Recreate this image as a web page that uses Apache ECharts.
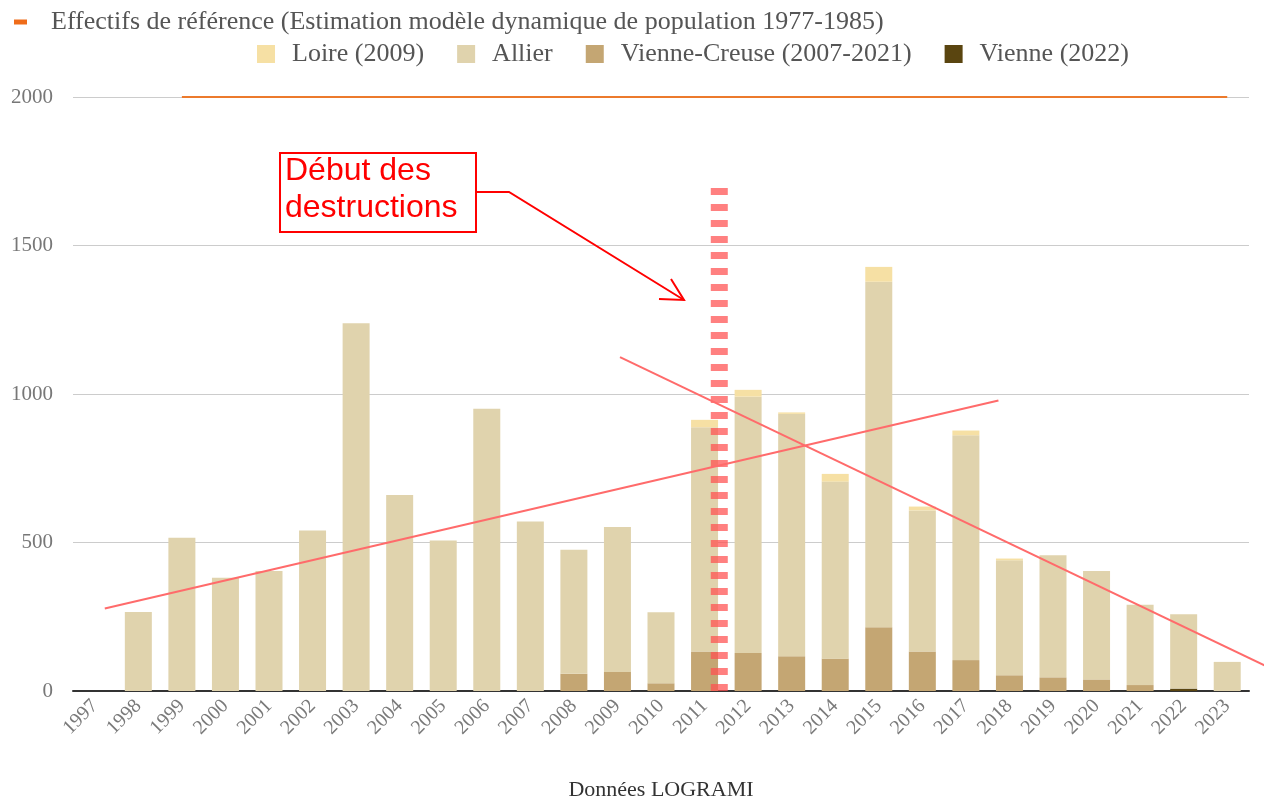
<!DOCTYPE html>
<html>
<head>
<meta charset="utf-8">
<script src="https://cdn.jsdelivr.net/npm/echarts@6/dist/echarts.min.js"></script>
<style>
  html, body { margin: 0; padding: 0; background: #fff; }
  #chart { width: 1264px; height: 803px; }
</style>
</head>
<body>
<div id="chart"></div>
<script>
const years = ['1997', '1998', '1999', '2000', '2001', '2002', '2003', '2004', '2005', '2006',
  '2007', '2008', '2009', '2010', '2011', '2012', '2013', '2014', '2015', '2016',
  '2017', '2018', '2019', '2020', '2021', '2022', '2023']

// portions empilées (du bas vers le haut)
const vienne = [null, null, null, null, null, null, null, null, null, null,
  null, null, null, null, null, null, null, null, null, null,
  null, null, null, null, null, 8, null]
const vienneCreuse = [null, null, null, null, null, null, null, null, null, null,
  null, 58, 64, 26, 133, 128, 117, 109, 215, 133,
  104, 53, 46, 39, 20, null, null]
const allier = [null, 266, 516, 381, 404, 540, 1238, 660, 507, 950,
  571, 418, 488, 239, 755, 863, 816, 596, 1163, 475,
  757, 387, 411, 365, 270, 250, 98]
const loire = [null, null, null, null, null, null, null, null, null, null,
  null, null, null, null, 25, 23, 5, 26, 50, 13,
  16, 6, null, null, null, null, null]
const reference = [null, null, 2000, 2000, 2000, 2000, 2000, 2000, 2000, 2000,
  2000, 2000, 2000, 2000, 2000, 2000, 2000, 2000, 2000, 2000,
  2000, 2000, 2000, 2000, 2000, 2000, 2000]

const yTicks = [0, 500, 1000, 1500, 2000]

// annotations (axe x continu, en années)
const trendUp = [[1997.23, 278], [2017.75, 978]]
const trendDown = [[2009.06, 1124], [2023.86, 86]]
const destructionStart = [[2011.34, 0], [2011.34, 1700]]

const REF_NAME = 'Effectifs de référence (Estimation modèle dynamique de population 1977-1985)'
const SERIF = '"Liberation Serif", "DejaVu Serif", serif'

const chart = echarts.init(document.getElementById('chart'))

function barSeries(name, data, color) {
  return {
    name,
    type: 'bar',
    stack: 'total',
    data,
    barWidth: 27,
    itemStyle: { color },
    emphasis: { disabled: true }
  }
}

function overlayLine(name, data, lineStyle, z) {
  return {
    name,
    type: 'line',
    xAxisIndex: 1,
    yAxisIndex: 1,
    data,
    symbol: 'none',
    clip: false,
    lineStyle,
    z
  }
}

const trendStyle = { color: '#ff6b6b', width: 2 }
// la grille d'annotation va jusqu'au bord droit : une année = 43.55 px
const overlayMax = 1996.5 + (1264 - 73) / 43.55

chart.setOption({
  animation: false,
  textStyle: { fontFamily: SERIF },
  legend: [
    {
      data: [REF_NAME],
      left: 14,
      top: 9,
      padding: 0,
      icon: 'rect',
      itemWidth: 13,
      itemHeight: 5,
      textStyle: { fontSize: 26, color: '#555', fontFamily: SERIF, padding: [0, 0, 0, 19] }
    },
    {
      data: ['Loire (2009)', 'Allier', 'Vienne-Creuse (2007-2021)', 'Vienne (2022)'],
      left: 257,
      top: 41,
      padding: 0,
      icon: 'rect',
      itemWidth: 18,
      itemHeight: 18,
      itemGap: 33,
      textStyle: { fontSize: 26, color: '#555', fontFamily: SERIF, padding: [0, 0, 0, 12] }
    }
  ],
  grid: [
    { left: 73, right: 15, top: 97, bottom: 112, containLabel: false, outerBoundsMode: 'none' },
    { left: 73, right: 0, top: 97, bottom: 112, containLabel: false, outerBoundsMode: 'none' }
  ],
  xAxis: [
    {
      type: 'category',
      gridIndex: 0,
      data: years,
      axisTick: { show: false },
      axisLine: { lineStyle: { color: '#333', width: 2 } },
      axisLabel: { rotate: 45, fontSize: 20, color: '#7a7a7a', margin: 12, fontFamily: SERIF },
      name: 'Données LOGRAMI',
      nameLocation: 'middle',
      nameGap: 88,
      nameTextStyle: { fontSize: 22, color: '#333', fontFamily: SERIF }
    },
    {
      type: 'value',
      gridIndex: 1,
      min: 1996.5,
      max: overlayMax,
      show: false
    }
  ],
  yAxis: [
    {
      type: 'value',
      gridIndex: 0,
      min: yTicks[0],
      max: yTicks[yTicks.length - 1],
      interval: 500,
      axisLine: { show: false },
      axisTick: { show: false },
      axisLabel: { fontSize: 21, color: '#777', margin: 20, fontFamily: SERIF, formatter: v => String(v) },
      splitLine: { lineStyle: { color: '#ccc', width: 1 } }
    },
    {
      type: 'value',
      gridIndex: 1,
      min: yTicks[0],
      max: yTicks[yTicks.length - 1],
      show: false
    }
  ],
  series: [
    barSeries('Vienne (2022)', vienne, '#5a4510'),
    barSeries('Vienne-Creuse (2007-2021)', vienneCreuse, '#c4a673'),
    barSeries('Allier', allier, '#e0d3ad'),
    barSeries('Loire (2009)', loire, '#f6e0a4'),
    {
      name: REF_NAME,
      type: 'line',
      data: reference,
      symbol: 'none',
      lineStyle: { color: '#ec7a2c', width: 2 },
      itemStyle: { color: '#ef6c1a' },
      z: 3
    },
    overlayLine('trendUp', trendUp, trendStyle, 5),
    overlayLine('trendDown', trendDown, trendStyle, 5),
    overlayLine('destructions', destructionStart,
      { color: '#ff4f4f', width: 17, type: [7, 9], opacity: 0.72 }, 4)
  ],
  graphic: [
    {
      type: 'rect',
      shape: { x: 280, y: 153, width: 196, height: 79 },
      style: { fill: '#fff', stroke: '#ff0000', lineWidth: 2 },
      z: 10
    },
    {
      type: 'text',
      x: 285,
      y: 153,
      style: {
        text: 'Début des\ndestructions',
        fill: '#ff0000',
        font: '32px "Liberation Sans", Arial, sans-serif',
        lineHeight: 37
      },
      z: 11
    },
    {
      type: 'polyline',
      shape: { points: [[477, 192], [509, 192], [684, 300]] },
      style: { stroke: '#ff0000', lineWidth: 2, fill: null },
      z: 10
    },
    {
      type: 'polyline',
      shape: { points: [[671, 279], [684, 300], [659, 299]] },
      style: { stroke: '#ff0000', lineWidth: 2, fill: null },
      z: 10
    }
  ]
})
</script>
</body>
</html>
